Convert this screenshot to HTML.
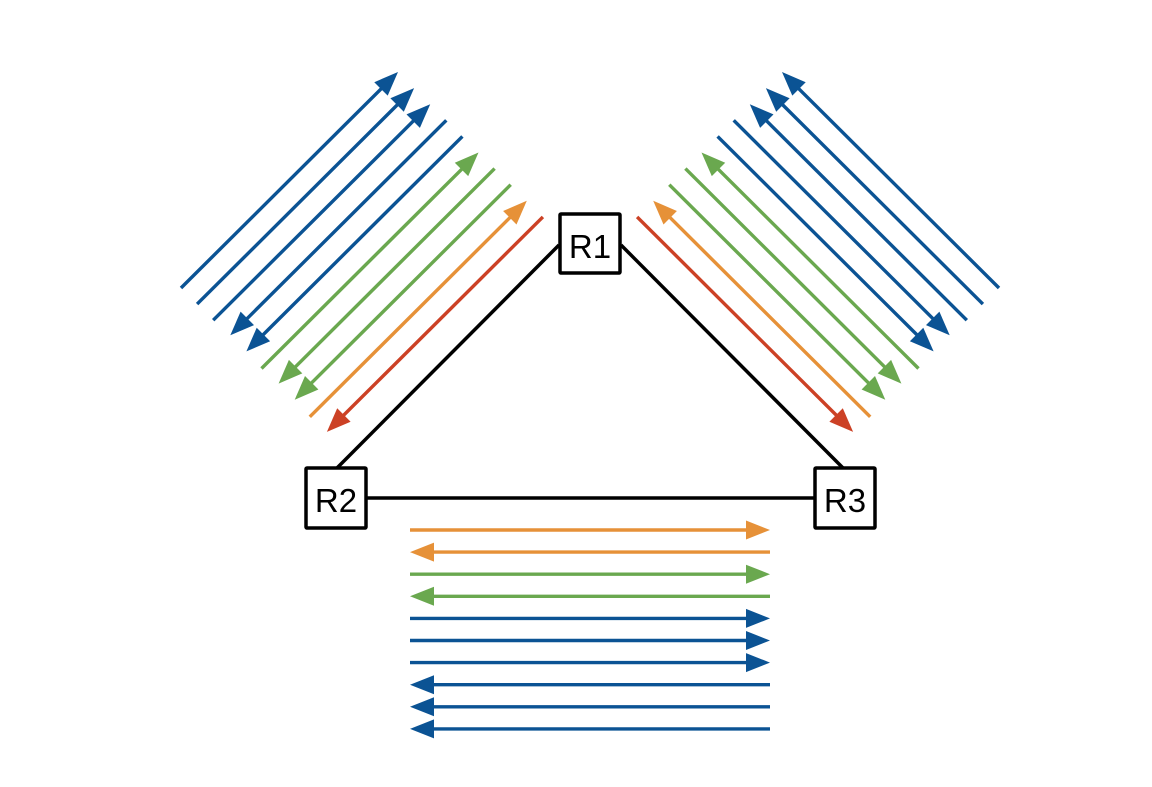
<!DOCTYPE html>
<html><head><meta charset="utf-8"><style>
html,body{margin:0;padding:0;background:#fff;}
svg{display:block;}
text{font-family:"Liberation Sans",sans-serif;}
</style></head><body>
<svg id="chart" width="1152" height="787" viewBox="0 0 1152 787" xmlns="http://www.w3.org/2000/svg">
<g id="links">
<line x1="559" y1="245" x2="337" y2="468" stroke="#000" stroke-width="3.5"/>
<line x1="621" y1="245" x2="843" y2="468" stroke="#000" stroke-width="3.5"/>
<line x1="365" y1="498" x2="815" y2="498" stroke="#000" stroke-width="3.5"/>
</g>
<g id="arrows"></g>
<g id="nodes">
<g><rect x="560" y="214" width="60" height="59" fill="#fff" stroke="#000" stroke-width="3.5" rx="1"/><text x="590" y="258" font-size="33" text-anchor="middle">R1</text></g>
<g><rect x="306" y="468" width="60" height="60" fill="#fff" stroke="#000" stroke-width="3.5" rx="1"/><text x="336" y="512" font-size="33" text-anchor="middle">R2</text></g>
<g><rect x="815" y="468" width="60" height="60" fill="#fff" stroke="#000" stroke-width="3.5" rx="1"/><text x="845" y="512" font-size="33" text-anchor="middle">R3</text></g>
</g>
</svg>
<script>
// flow colours & directions per lane (outermost first); 1 = toward R1 side / rightward
const diagColors = ['blue','blue','blue','blue','blue','green','green','green','orange','red'];
const diagDirs = [1,1,1,0,0,1,0,0,1,0];
const bottomColors = ['orange','orange','green','green','blue','blue','blue','blue','blue','blue'];
const bottomDirs = [1,0,1,0,1,1,1,0,0,0];
const palette = {blue:'#0b5394',green:'#6aa84f',orange:'#e69138',red:'#cc4125'};
const g = document.getElementById('arrows');
const NS = 'http://www.w3.org/2000/svg';
function arrow(x1,y1,x2,y2,col,name){
  const dx=x2-x1, dy=y2-y1, L=Math.hypot(dx,dy), ux=dx/L, uy=dy/L;
  const hl=24, hw=9.5;
  const bx=x2-ux*hl, by=y2-uy*hl;
  const grp=document.createElementNS(NS,'g');
  
  
  const ln=document.createElementNS(NS,'line');
  ln.setAttribute('x1',x1);ln.setAttribute('y1',y1);ln.setAttribute('x2',bx+ux*2);ln.setAttribute('y2',by+uy*2);
  ln.setAttribute('stroke',col);ln.setAttribute('stroke-width','3.4');
  grp.appendChild(ln);
  const p=document.createElementNS(NS,'polygon');
  p.setAttribute('points',`${x2},${y2} ${bx-uy*hw},${by+ux*hw} ${bx+uy*hw},${by-ux*hw}`);
  p.setAttribute('fill',col);
  grp.appendChild(p);
  g.appendChild(grp);
}
diagColors.forEach((c,i)=>{
  const col=palette[c];
  const ax=181+16.1*i, ay=288+16.1*i, bx=398+16.1*i, by=72+16.1*i;
  if(diagDirs[i]) arrow(ax,ay,bx,by,col,'left-flow-'+i); else arrow(bx,by,ax+1,ay-1,col,'left-flow-'+i);
  const rax=1180-ax, rbx=1180-bx;
  if(diagDirs[i]) arrow(rax,ay,rbx,by,col,'right-flow-'+i); else arrow(rbx,by,rax-1,ay-1,col,'right-flow-'+i);
});
bottomColors.forEach((c,i)=>{
  const col=palette[c], y=530+22.1*i;
  if(bottomDirs[i]) arrow(410,y,770,y,col,'bottom-flow-'+i); else arrow(770,y,410,y,col,'bottom-flow-'+i);
});
</script>
</body></html>
